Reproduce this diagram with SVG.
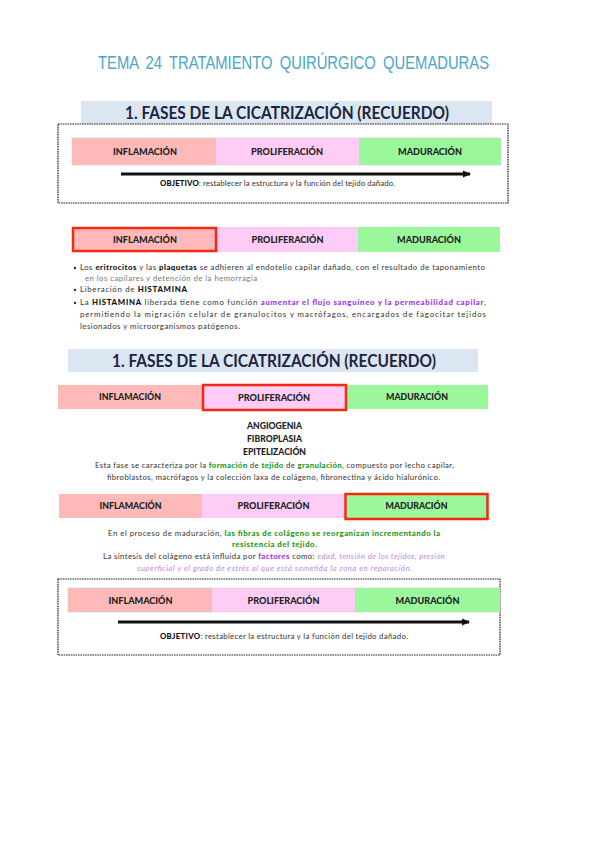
<svg xmlns="http://www.w3.org/2000/svg" width="603" height="848" viewBox="0 0 603 848">
<defs>
<marker id="ah" markerWidth="8" markerHeight="8" refX="7" refY="4" orient="auto" markerUnits="userSpaceOnUse">
<path d="M0,0.5 L8,4 L0,7.5 Z" fill="#111"/>
</marker>
<style>
.hd{font-family:"Lato","Open Sans","Liberation Sans",sans-serif;font-weight:bold;font-size:16.5px;fill:#1c2540;}
.hb{fill:#dce6f2;}
.lbl{font-family:"Lato","Open Sans","Liberation Sans",sans-serif;font-weight:900;font-size:8.4px;fill:#222;text-anchor:middle;}
.pk{fill:#ffb9b9;}
.lv{fill:#ffccf5;}
.gr{fill:#9bf79b;}
.hl{fill:none;stroke:#f22a12;stroke-width:2.5;}
.box{fill:none;stroke:#222;stroke-width:1.2;stroke-dasharray:1.6 0.8;}
.arr{stroke:#111;stroke-width:3;}
.b{font-family:"Lato","Open Sans","Liberation Sans",sans-serif;font-size:7.8px;fill:#333;}
.bb{font-weight:900;fill:#111;}
.pu{font-weight:900;fill:#a033f0;}
.gn{font-weight:900;fill:#1a9a1a;}
.lp{font-style:italic;fill:#b98ae8;}
</style>
</defs>

<g id="title">
<text x="98" y="69" textLength="391" lengthAdjust="spacingAndGlyphs" style="font-family:'Liberation Sans',Arial,sans-serif;font-size:18.5px;fill:#4aa6cb;word-spacing:4px;">TEMA 24 TRATAMIENTO QUIRÚRGICO QUEMADURAS</text>
</g>

<g id="header1">
<rect class="hb" x="81" y="101" width="411" height="23"/>
<text class="hd" x="125" y="119" textLength="324" lengthAdjust="spacingAndGlyphs">1. FASES DE LA CICATRIZACIÓN (RECUERDO)</text>
</g>

<g id="block1">
<rect class="box" x="58" y="124" width="450" height="79"/>
<rect class="pk" x="72" y="138" width="144" height="27"/>
<rect class="lv" x="216" y="138" width="143" height="27"/>
<rect class="gr" x="359" y="138" width="142" height="27"/>
<rect x="72" y="138" width="429" height="27" fill="none" stroke="#d0d0d0" stroke-width="0.6"/>
<text class="lbl" x="145" y="155" textLength="64" lengthAdjust="spacingAndGlyphs">INFLAMACIÓN</text>
<text class="lbl" x="287" y="155" textLength="72" lengthAdjust="spacingAndGlyphs">PROLIFERACIÓN</text>
<text class="lbl" x="430" y="155" textLength="64" lengthAdjust="spacingAndGlyphs">MADURACIÓN</text>
<line class="arr" x1="121" y1="174" x2="470" y2="174" marker-end="url(#ah)"/>
<text class="b" x="160" y="186" textLength="235" lengthAdjust="spacing"><tspan class="bb">OBJETIVO</tspan>: restablecer la estructura y la función del tejido dañado.</text>
</g>

<g id="block2">
<rect class="pk" x="72" y="227" width="145" height="25"/>
<rect class="lv" x="217" y="227" width="141" height="25"/>
<rect class="gr" x="358" y="227" width="142" height="25"/>
<rect class="hl" x="73" y="228" width="143" height="23"/>
<text class="lbl" x="145" y="243" textLength="64" lengthAdjust="spacingAndGlyphs">INFLAMACIÓN</text>
<text class="lbl" x="287.5" y="243" textLength="72" lengthAdjust="spacingAndGlyphs">PROLIFERACIÓN</text>
<text class="lbl" x="429" y="243" textLength="64" lengthAdjust="spacingAndGlyphs">MADURACIÓN</text>
<circle cx="75" cy="268" r="1.2" fill="#333"/>
<text class="b" x="80" y="270" textLength="405" lengthAdjust="spacing">Los <tspan class="bb">eritrocitos</tspan> y las <tspan class="bb">plaquetas</tspan> se adhieren al endotelio capilar dañado, con el resultado de taponamiento</text>
<text class="b" x="85" y="281" textLength="172" lengthAdjust="spacing" style="fill:#777">en los capilares y detención de la hemorragia</text>
<circle cx="75" cy="290" r="1.2" fill="#333"/>
<text class="b" x="80" y="292" textLength="107" lengthAdjust="spacing">Liberación de <tspan class="bb">HISTAMINA</tspan></text>
<circle cx="75" cy="303" r="1.2" fill="#333"/>
<text class="b" x="80" y="305" textLength="406" lengthAdjust="spacing">La <tspan class="bb">HISTAMINA</tspan> liberada tiene como función <tspan class="pu">aumentar el flujo sanguíneo y la permeabilidad capilar</tspan>,</text>
<text class="b" x="80" y="317" textLength="406" lengthAdjust="spacing">permitiendo la migración celular de granulocitos y macrófagos, encargados de fagocitar tejidos</text>
<text class="b" x="80" y="329" textLength="160" lengthAdjust="spacing">lesionados y microorganismos patógenos.</text>
</g>

<g id="header2">
<rect class="hb" x="68" y="349" width="410" height="23"/>
<text class="hd" x="112" y="367" textLength="324" lengthAdjust="spacingAndGlyphs">1. FASES DE LA CICATRIZACIÓN (RECUERDO)</text>
</g>

<g id="block3">
<rect class="pk" x="58" y="385" width="144" height="24"/>
<rect class="lv" x="202" y="385" width="144" height="24"/>
<rect class="gr" x="346" y="385" width="142" height="24"/>
<rect class="hl" x="203" y="385" width="143" height="25"/>
<text class="lbl" x="130" y="400" textLength="62" lengthAdjust="spacingAndGlyphs">INFLAMACIÓN</text>
<text class="lbl" x="274" y="400.5" textLength="72" lengthAdjust="spacingAndGlyphs">PROLIFERACIÓN</text>
<text class="lbl" x="417" y="400" textLength="62" lengthAdjust="spacingAndGlyphs">MADURACIÓN</text>
<text class="lbl" x="274.5" y="429" textLength="55" lengthAdjust="spacingAndGlyphs">ANGIOGENIA</text>
<text class="lbl" x="274.5" y="442" textLength="55" lengthAdjust="spacingAndGlyphs">FIBROPLASIA</text>
<text class="lbl" x="274.5" y="455" textLength="63" lengthAdjust="spacingAndGlyphs">EPITELIZACIÓN</text>
<text class="b" x="95" y="468" textLength="359" lengthAdjust="spacing">Esta fase se caracteriza por la <tspan class="gn">formación</tspan> de <tspan class="gn">tejido</tspan> de <tspan class="gn">granulación</tspan>, compuesto por lecho capilar,</text>
<text class="b" x="107" y="480" textLength="333" lengthAdjust="spacing">fibroblastos, macrófagos y la colección laxa de colágeno, fibronectina y ácido hialurónico.</text>
</g>

<g id="block4">
<rect class="pk" x="59" y="494" width="143" height="24"/>
<rect class="lv" x="202" y="494" width="143" height="24"/>
<rect class="gr" x="345" y="494" width="143" height="24"/>
<rect class="hl" x="345.5" y="494" width="142" height="25"/>
<text class="lbl" x="130.5" y="509" textLength="62" lengthAdjust="spacingAndGlyphs">INFLAMACIÓN</text>
<text class="lbl" x="273.5" y="509" textLength="72" lengthAdjust="spacingAndGlyphs">PROLIFERACIÓN</text>
<text class="lbl" x="416.5" y="509" textLength="62" lengthAdjust="spacingAndGlyphs">MADURACIÓN</text>
<text class="b" x="108" y="536" textLength="332" lengthAdjust="spacing">En el proceso de maduración, <tspan class="gn">las fibras de colágeno se reorganizan incrementando la</tspan></text>
<text class="b gn" x="232" y="547" textLength="85" lengthAdjust="spacing">resistencia del tejido.</text>
<text class="b" x="103" y="559" textLength="342" lengthAdjust="spacing">La síntesis del colágeno está influida por <tspan class="pu">factores</tspan> como: <tspan class="lp">edad, tensión de los tejidos, presión</tspan></text>
<text class="b lp" x="137" y="571" textLength="275" lengthAdjust="spacing">superficial y el grado de estrés al que está sometida la zona en reparación.</text>
</g>

<g id="block5">
<rect class="box" x="58" y="579" width="442" height="76"/>
<rect class="pk" x="68" y="588" width="144" height="24"/>
<rect class="lv" x="212" y="588" width="143" height="24"/>
<rect class="gr" x="355" y="588" width="145" height="24"/>
<rect x="68" y="588" width="432" height="24" fill="none" stroke="#d0d0d0" stroke-width="0.6"/>
<text class="lbl" x="140.5" y="603.5" textLength="64" lengthAdjust="spacingAndGlyphs">INFLAMACIÓN</text>
<text class="lbl" x="283.5" y="603.5" textLength="72" lengthAdjust="spacingAndGlyphs">PROLIFERACIÓN</text>
<text class="lbl" x="427.5" y="603.5" textLength="64" lengthAdjust="spacingAndGlyphs">MADURACIÓN</text>
<line class="arr" x1="118" y1="622" x2="469" y2="622" marker-end="url(#ah)"/>
<text class="b" x="160" y="639" textLength="248" lengthAdjust="spacing"><tspan class="bb">OBJETIVO</tspan>: restablecer la estructura y la función del tejido dañado.</text>
</g>
</svg>
